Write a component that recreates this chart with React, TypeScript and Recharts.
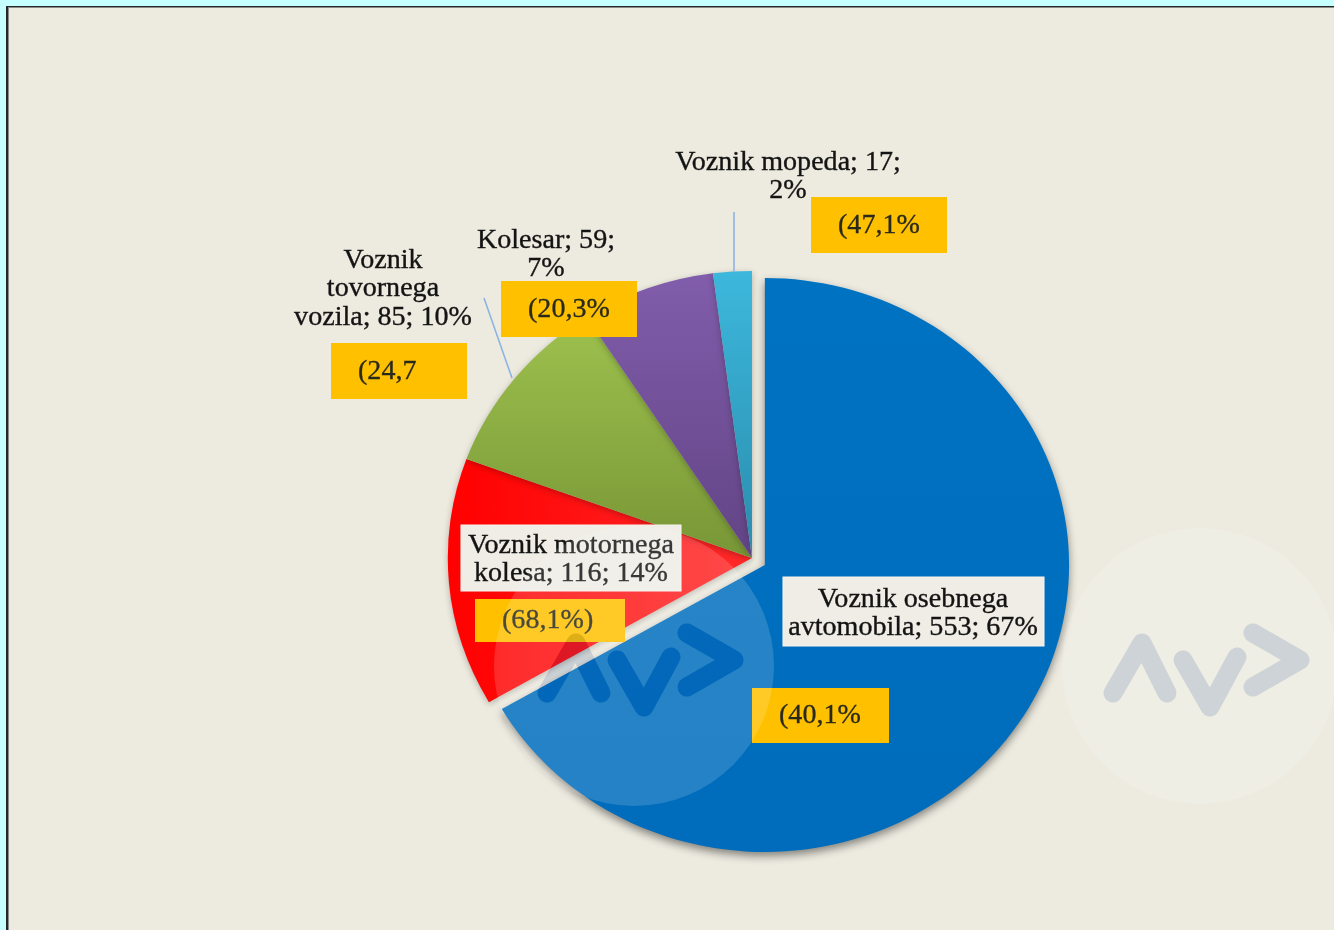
import React from 'react';
import { PieChart, Pie, Cell } from 'recharts';

// udeleženci prometnih nesreč po vrsti (povzročitelji)
const categories = [
  'Voznik osebnega avtomobila',
  'Voznik motornega kolesa',
  'Voznik tovornega vozila',
  'Kolesar',
  'Voznik mopeda',
];
const counts = [553, 116, 85, 59, 17];
const notes = ['(40,1%', '(68,1%)', '(24,7', '(20,3%', '(47,1%'];
const fills = ['url(#gBlue)', 'url(#gRed)', 'url(#gGreen)', 'url(#gPurple)', 'url(#gTeal)'];

const total = counts.reduce((a, b) => a + b, 0);
const data = categories.map((name, i) => ({
  name,
  value: counts[i],
  pct: Math.round((counts[i] / total) * 100),
}));

// geometry (page px)
const CX = 752;
const CY = 558;
const R = 287;
const SX = 1.06; // the original is slightly stretched horizontally
const EXPLODE = 14;

const blueMid = (90 - (360 * counts[0]) / total / 2) * (Math.PI / 180);
const offX = EXPLODE * Math.cos(blueMid);
const offY = -EXPLODE * Math.sin(blueMid);

type Box = { x: number; y: number; w: number; h: number };
type LabelLayout = {
  center: number;
  words: number[];
  base: number;
  box?: Box;
  note: Box;
  leader?: [number, number, number, number];
};

const labelLayout: LabelLayout[] = [
  { center: 913, words: [2, 3], base: 607, box: { x: 783, y: 577, w: 261, h: 69 }, note: { x: 752, y: 688, w: 137, h: 55 } },
  { center: 571, words: [2, 3], base: 553, box: { x: 461, y: 525, w: 220, h: 66 }, note: { x: 475, y: 599, w: 150, h: 43 } },
  { center: 383, words: [1, 1, 3], base: 268, note: { x: 331, y: 343, w: 136, h: 56 }, leader: [484, 298, 512, 378] },
  { center: 546, words: [2, 1], base: 248, note: { x: 501, y: 281, w: 136, h: 56 } },
  { center: 788, words: [3, 1], base: 170, note: { x: 811, y: 197, w: 136, h: 56 }, leader: [734, 212, 734, 272] },
];

const LINE_H = 28.5;
const FONT = '"Liberation Serif", "Times New Roman", serif';

// page x -> x inside the stretched chart
const px = (x: number) => CX + (x - CX) / SX;

const splitLines = (text: string, groups: number[]) => {
  const words = text.split(' ');
  const out: string[] = [];
  let k = 0;
  groups.forEach((g) => {
    out.push(words.slice(k, k + g).join(' '));
    k += g;
  });
  return out;
};

const renderLabel = (props: any) => {
  const i = props.index;
  const d = data[i];
  const lay = labelLayout[i];
  const lines = splitLines(`${d.name}; ${d.value}; ${d.pct}%`, lay.words);
  return (
    <g key={`lbl-${i}`}>
      {lay.leader && (
        <line
          x1={px(lay.leader[0])}
          y1={lay.leader[1]}
          x2={px(lay.leader[2])}
          y2={lay.leader[3]}
          stroke="#8db3e2"
          strokeWidth={1.5}
        />
      )}
      {lay.box && (
        <rect
          x={px(lay.box.x)}
          y={lay.box.y}
          width={lay.box.w / SX}
          height={lay.box.h}
          fill="#efede5"
          stroke="#f6f4ee"
          strokeWidth={1}
        />
      )}
      {lines.map((t, j) => (
        <text
          key={j}
          x={px(lay.center)}
          y={lay.base + j * LINE_H}
          textAnchor="middle"
          fontFamily={FONT}
          fontSize={26.5}
          fill="#141414"
          stroke="#141414"
          strokeWidth={0.35}
        >
          {t}
        </text>
      ))}
      <rect x={px(lay.note.x)} y={lay.note.y} width={lay.note.w / SX} height={lay.note.h} fill="#ffc000" />
      <text
        x={px(lay.note.x + 27)}
        y={lay.note.y + lay.note.h / 2 + 8}
        fontFamily={FONT}
        fontSize={26.5}
        fill="#2a2a1c"
        stroke="#2a2a1c"
        strokeWidth={0.3}
      >
        {notes[i]}
      </text>
    </g>
  );
};

const logo = ['M-87,27 L-58,-23 L-33,27', 'M-17,-6 L10,41 L37,-9', 'M53,-33 L100,-6 L53,21'];
const marks = [
  { x: 634, y: 666, r: 140 },
  { x: 1200, y: 666, r: 138 },
];

const Watermarks = () => (
  <svg width={1334} height={930} style={{ position: 'absolute', left: 0, top: 0, pointerEvents: 'none' }}>
    <defs>
      {marks.map((m, i) => (
        <mask id={`wm${i}`} key={i}>
          <rect x={0} y={0} width={1334} height={930} fill="#fff" />
          {logo.map((p, j) => (
            <path
              key={j}
              d={p}
              transform={`translate(${m.x},${m.y})`}
              stroke="#000"
              strokeWidth={19}
              fill="none"
              strokeLinecap="round"
              strokeLinejoin="round"
            />
          ))}
        </mask>
      ))}
    </defs>
    {marks.map((m, i) => (
      <g key={i}>
        <circle cx={m.x} cy={m.y} r={m.r} fill="#fff" fillOpacity={0.15} mask={`url(#wm${i})`} />
        {logo.map((p, j) => (
          <path
            key={j}
            d={p}
            transform={`translate(${m.x},${m.y})`}
            stroke="rgb(20,70,160)"
            strokeOpacity={0.14}
            strokeWidth={19}
            fill="none"
            strokeLinecap="round"
            strokeLinejoin="round"
          />
        ))}
      </g>
    ))}
  </svg>
);

const App = () => {
  return (
    <div
      style={{
        position: 'absolute',
        left: 0,
        top: 0,
        width: 1334,
        height: 930,
        background: '#c6ffff',
        overflow: 'hidden',
      }}
    >
      <div
        style={{
          position: 'absolute',
          left: 6,
          top: 6,
          right: 0,
          bottom: 0,
          background: '#edebe0',
          borderLeft: '2px solid #262626',
          borderTop: '1px solid #262626',
          boxShadow: 'inset 1px 1px 0 #8a8a8a',
        }}
      />
      <div
        style={{
          position: 'absolute',
          left: 0,
          top: 0,
          width: 1334,
          height: 930,
          transform: `scaleX(${SX})`,
          transformOrigin: `${CX}px 0px`,
        }}
      >
        <PieChart width={1334} height={930} margin={{ top: 0, right: 0, bottom: 0, left: 0 }}>
          <defs>
            <linearGradient id="gBlue" x1="0" y1="0" x2="0" y2="1">
              <stop offset="0%" stopColor="#0072c2" />
              <stop offset="100%" stopColor="#006cbb" />
            </linearGradient>
            <linearGradient id="gRed" x1="0" y1="0" x2="1" y2="0">
              <stop offset="0%" stopColor="#ff0000" />
              <stop offset="100%" stopColor="#ff2a2a" />
            </linearGradient>
            <linearGradient id="gGreen" x1="0" y1="0" x2="0" y2="1">
              <stop offset="0%" stopColor="#9dc14e" />
              <stop offset="100%" stopColor="#789636" />
            </linearGradient>
            <linearGradient id="gPurple" x1="0" y1="0" x2="0" y2="1">
              <stop offset="0%" stopColor="#815dab" />
              <stop offset="100%" stopColor="#624485" />
            </linearGradient>
            <linearGradient id="gTeal" x1="0" y1="0" x2="0" y2="1">
              <stop offset="0%" stopColor="#3cb8dc" />
              <stop offset="100%" stopColor="#2a8cad" />
            </linearGradient>
          </defs>
          <Pie
            data={data}
            dataKey="value"
            nameKey="name"
            cx={CX}
            cy={CY}
            outerRadius={R}
            startAngle={90}
            endAngle={-270}
            stroke="none"
            isAnimationActive={false}
            labelLine={false}
          >
            {data.map((d, i) => (
              <Cell
                key={d.name}
                fill={i === 0 ? 'none' : fills[i]}
                style={{ filter: 'drop-shadow(0px 2px 3px rgba(0,0,0,0.25))' }}
              />
            ))}
          </Pie>
          <Pie
            data={data}
            dataKey="value"
            nameKey="name"
            cx={CX + offX}
            cy={CY + offY}
            outerRadius={R}
            startAngle={90}
            endAngle={-270}
            stroke="none"
            isAnimationActive={false}
            labelLine={false}
            label={renderLabel}
          >
            {data.map((d, i) => (
              <Cell
                key={d.name}
                fill={i === 0 ? fills[0] : 'none'}
                style={i === 0 ? { filter: 'drop-shadow(0px 4px 4px rgba(0,0,0,0.45))' } : undefined}
              />
            ))}
          </Pie>
        </PieChart>
      </div>
      <Watermarks />
    </div>
  );
};

export default App;
